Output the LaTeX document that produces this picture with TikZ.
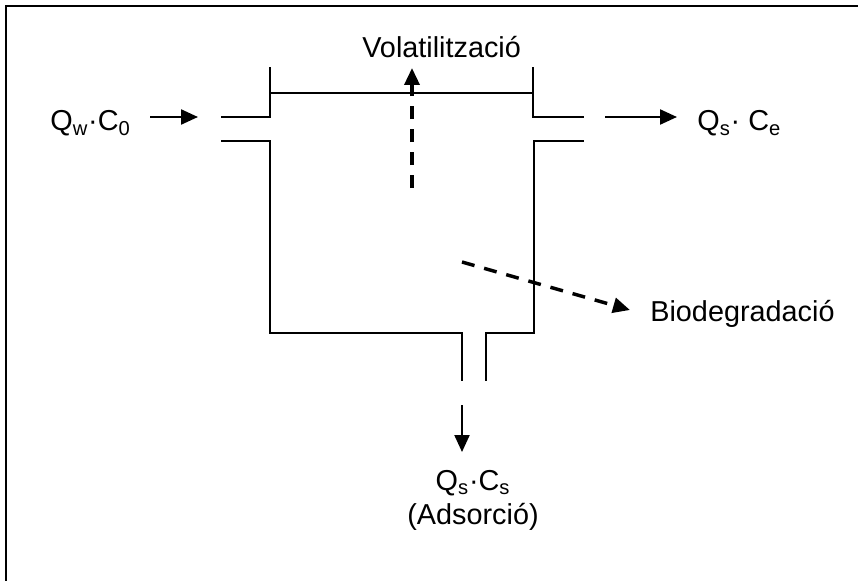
\documentclass[tikz,border=0pt]{standalone}
\usepackage{fontspec}
\setmainfont{Liberation Sans}
\usetikzlibrary{arrows.meta}

\begin{document}
\begin{tikzpicture}[
	x=0.02cm, y=-0.02cm,
	wall/.style={ line width=0.05cm, line cap=rect },
	flow/.style={ line width=0.045cm, -{Triangle[length=0.34cm, width=0.3cm]} },
	loss/.style={ line width=0.07cm, dash pattern=on 0.26cm off 0.2cm, -{Triangle[length=0.34cm, width=0.3cm]} },
	label/.style={ inner sep=0pt, font=\fontsize{16.4}{19}\selectfont }
]

\useasboundingbox (0,0) rectangle (858,581);

\draw[line width=0.05cm]
  (6,581) to (6,6) to (858,6)
  ;

% tank
\draw[wall] (222,117) to (270,117) to (270,68);
\draw[wall] (270,93) to (533,93);
\draw[wall] (533,68) to (533,117) to (583,117);
\draw[wall] (222,141) to (270,141) to (270,333) to (462,333) to (462,380);
\draw[wall] (486,380) to (486,333) to (534,333) to (534,141) to (583,141);

% labels
\node[label, anchor=base west] at (50,131) (qin) {Q\textsubscript{w}·C\textsubscript{0}};
\node[label, anchor=base west] at (697,131) (qout) {Q\textsubscript{s}· C\textsubscript{e}};
\node[label, anchor=base west] at (362,58) (volat) {Volatilització};
\node[label, anchor=base west] at (650,321) (biodeg) {Biodegradació};
\node[label, anchor=base] at (473,490) (qsolid) {Q\textsubscript{s}·C\textsubscript{s}};
\node[label, anchor=base] at (473,524) (adsorc) {(Adsorció)};

\coordinate (in1) at (150,117);
\coordinate (in2) at (198,117);
\coordinate (out1) at (605,117);
\coordinate (out2) at (677,117);
\coordinate (vol1) at (412,188);
\coordinate (vol2) at (412,68);
\coordinate (bio1) at (462,262);
\coordinate (bio2) at (630,310);
\coordinate (ads1) at (462,405);
\coordinate (ads2) at (462,452);

\draw[flow] (in1) to (in2);
\draw[flow] (out1) to (out2);
\draw[flow] (ads1) to (ads2);
\draw[loss] (vol1) to (vol2);
\draw[loss] (bio1) to (bio2);

\end{tikzpicture}
\end{document}
